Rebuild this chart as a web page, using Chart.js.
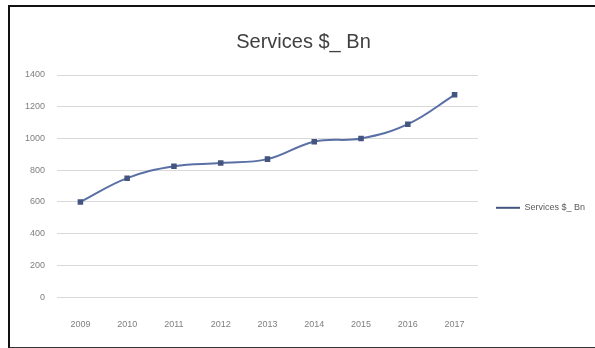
<!DOCTYPE html>
<html>
<head>
<meta charset="utf-8">
<script src="https://cdn.jsdelivr.net/npm/chart.js@4/dist/chart.umd.min.js"></script>
<style>
  html, body { margin: 0; padding: 0; background: #fff; }
  #wrap {
    position: absolute; left: 8px; top: 5px; width: 600px; height: 340px;
    border-left: 2px solid #111; border-top: 2px solid #111; border-bottom: 2px solid #333;
  }
  #box { position: absolute; left: 0; top: 0; width: 595px; height: 348px; }
</style>
</head>
<body>
<div id="wrap"></div>
<div id="box"><canvas id="c" width="595" height="348"></canvas></div>
<script>
// Services $ Bn by year
const years = ['2009', '2010', '2011', '2012', '2013', '2014', '2015', '2016', '2017'];
const services = [600, 750, 825, 845, 870, 980, 1000, 1090, 1275];
const yTicks = [0, 200, 400, 600, 800, 1000, 1200, 1400];
const seriesName = 'Services $_ Bn';

const lineColor = '#5a6fa5';
const fontFam = 'Liberation Sans Narrow, Liberation Sans, sans-serif';

const ctx = document.getElementById('c');
new Chart(ctx, {
  type: 'line',
  data: {
    labels: years,
    datasets: [{
      label: seriesName,
      data: services,
      borderColor: lineColor,
      backgroundColor: lineColor,
      borderWidth: 2,
      tension: 0.4,
      pointStyle: 'rect',
      pointRadius: 2.5,
      pointBackgroundColor: '#44557f',
      pointBorderColor: '#44557f',
    }]
  },
  options: {
    responsive: false,
    animation: false,
    layout: { padding: { left: 12, top: 30, right: 0, bottom: 4 } },
    plugins: {
      title: {
        display: true,
        text: 'Services $_ Bn',
        color: '#404040',
        font: { family: fontFam, size: 20, weight: 'normal' },
        padding: { top: 0, bottom: 21 }
      },
      legend: {
        position: 'right',
        title: { display: true, text: ' ', padding: 16, font: { size: 8 } },
        labels: {
          usePointStyle: true,
          pointStyle: 'line',
          pointStyleWidth: 24,
          padding: 18,
          color: '#595959',
          font: { family: fontFam, size: 9 }
        }
      },
      tooltip: { enabled: false }
    },
    scales: {
      x: {
        offset: true,
        grid: { display: false },
        border: { color: '#d9d9d9' },
        ticks: {
          color: '#7f7f7f',
          padding: 14,
          maxRotation: 0,
          font: { family: fontFam, size: 9 }
        }
      },
      y: {
        min: 0,
        max: 1400,
        afterBuildTicks: (s) => { s.ticks = yTicks.map(v => ({ value: v })); },
        afterFit: (s) => { s.width = 45; },
        grid: { color: '#d9d9d9', drawTicks: false },
        border: { display: false },
        ticks: {
          color: '#7f7f7f',
          padding: 12,
          callback: (v) => String(v),
          font: { family: fontFam, size: 9 }
        }
      }
    }
  }
});
</script>
</body>
</html>
